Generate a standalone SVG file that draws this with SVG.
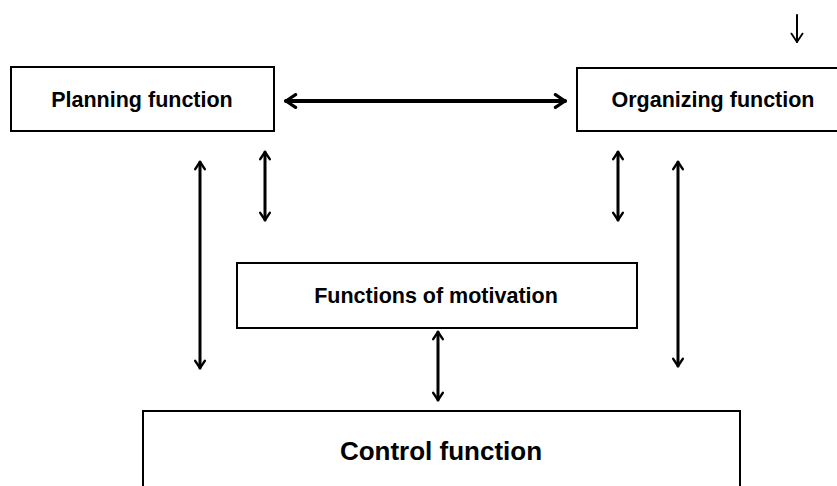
<svg xmlns="http://www.w3.org/2000/svg" width="837" height="486" viewBox="0 0 837 486">
<style>
.box{fill:#fff;stroke:#000;stroke-width:2}
.t{font-family:"Liberation Sans",Arial,sans-serif;font-weight:bold;fill:#000;text-anchor:middle}
.c{fill:none;stroke:#000;stroke-linecap:round}
</style>
<defs>
<marker id="ah" viewBox="0 0 10 10" refX="8" refY="5" markerWidth="4" markerHeight="4" orient="auto-start-reverse" markerUnits="strokeWidth">
<path d="M2,1 L8,5 L2,9" fill="none" stroke="#000" stroke-width="2" stroke-linecap="round" stroke-linejoin="round"/>
</marker>
<marker id="ah2" viewBox="0 0 10 10" refX="8" refY="5" markerWidth="7" markerHeight="8" orient="auto" markerUnits="strokeWidth">
<path d="M2,1 L8,5 L2,9" fill="none" stroke="#000" stroke-width="1.3" stroke-linecap="round" stroke-linejoin="round"/>
</marker>
</defs>
<g id="planning"><rect class="box" x="11" y="67" width="263" height="64"/><text class="t" x="142" y="107" font-size="21.5">Planning function</text></g>
<g id="organizing"><rect class="box" x="577" y="68" width="280" height="63"/><text class="t" x="713" y="107" font-size="21.5">Organizing function</text></g>
<g id="motivation"><rect class="box" x="237" y="263" width="400" height="65"/><text class="t" x="436" y="303" font-size="21.5">Functions of motivation</text></g>
<g id="control"><rect class="box" x="143" y="411" width="597" height="100"/><text class="t" x="441" y="460" font-size="26">Control function</text></g>
<g id="connectors">
<line class="c" x1="286" y1="101" x2="565" y2="101" stroke-width="4" marker-start="url(#ah)" marker-end="url(#ah)"/>
<line class="c" x1="797" y1="15" x2="797" y2="42" stroke-width="2" marker-end="url(#ah2)"/>
<line class="c" x1="200" y1="162" x2="200" y2="368" stroke-width="3" marker-start="url(#ah)" marker-end="url(#ah)"/>
<line class="c" x1="265" y1="152" x2="265" y2="220" stroke-width="3" marker-start="url(#ah)" marker-end="url(#ah)"/>
<line class="c" x1="618" y1="152" x2="618" y2="220" stroke-width="3" marker-start="url(#ah)" marker-end="url(#ah)"/>
<line class="c" x1="678" y1="162" x2="678" y2="366" stroke-width="3" marker-start="url(#ah)" marker-end="url(#ah)"/>
<line class="c" x1="438" y1="332" x2="438" y2="400" stroke-width="3" marker-start="url(#ah)" marker-end="url(#ah)"/>
</g>
</svg>
